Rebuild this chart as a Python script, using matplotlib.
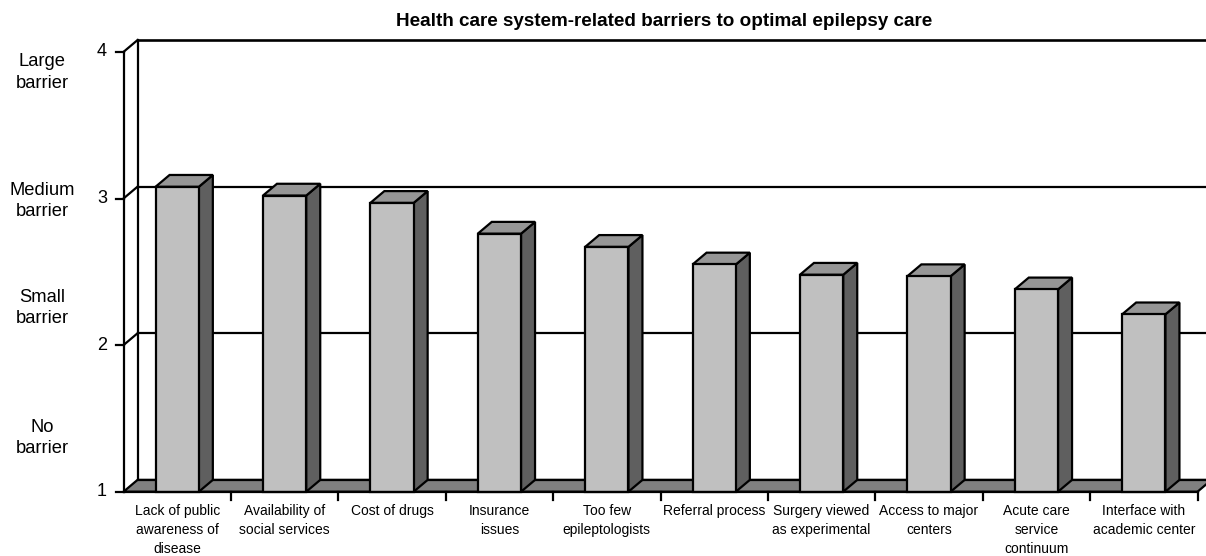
import matplotlib
matplotlib.use("Agg")
import matplotlib.pyplot as plt
from matplotlib.patches import Polygon

plt.rcParams["font.family"] = ["Liberation Sans", "DejaVu Sans"]

# Mean rating per barrier (1 = no barrier ... 4 = large barrier)
categories = [
    "Lack of public\nawareness of\ndisease",
    "Availability of\nsocial services",
    "Cost of drugs",
    "Insurance\nissues",
    "Too few\nepileptologists",
    "Referral process",
    "Surgery viewed\nas experimental",
    "Access to major\ncenters",
    "Acute care\nservice\ncontinuum",
    "Interface with\nacademic center",
]
values = [3.08, 3.02, 2.97, 2.76, 2.67, 2.55, 2.48, 2.47, 2.38, 2.21]
y_ticks = [1, 2, 3, 4]
level_labels = ["No\nbarrier", "Small\nbarrier", "Medium\nbarrier", "Large\nbarrier"]
title = "Health care system-related barriers to optimal epilepsy care"

W, H, DPI = 1206, 556, 100
fig = plt.figure(figsize=(W / DPI, H / DPI), dpi=DPI)
ax = fig.add_axes([0, 0, 1, 1])
ax.set_axis_off()

# pixel geometry of the front plane
px_left, px_cat = 123.5, 107.4          # x: left edge, pixels per category
py_base, px_val = 491.7, 146.6          # y: pixel row of value 1, pixels per unit
n = len(categories)
ax.set_xlim(-px_left / px_cat, (W - px_left) / px_cat)
ax.set_ylim(1 - (H - py_base) / px_val, 1 + py_base / px_val)

dx = 14 / px_cat      # depth offset (x)
dy = 11.8 / px_val    # depth offset (y)
xmax = ax.get_xlim()[1]
lw = 1.6

c_front, c_side, c_top, c_floor = "#c0c0c0", "#5f5f5f", "#969696", "#808080"

# back wall: left edge and horizontal gridlines
ax.plot([dx, dx], [1 + dy, 4 + dy], color="black", lw=lw, zorder=1)
for v in y_ticks[1:]:
    ax.plot([dx, xmax], [v + dy, v + dy], color="black",
            lw=1.9 if v == 4 else lw, zorder=1, clip_on=False)
    ax.plot([0, dx], [v, v + dy], color="black", lw=lw, zorder=1)

# floor
floor = Polygon([(0, 1), (n, 1), (n + dx, 1 + dy), (dx, 1 + dy)],
                closed=True, facecolor=c_floor, edgecolor="black", lw=lw,
                zorder=2, clip_on=False)
ax.add_patch(floor)
ax.plot([dx, xmax], [1 + dy, 1 + dy], color="black", lw=lw, zorder=2)

# 3-D columns
bw = 0.403
for i, v in enumerate(values):
    xl = i + 0.5 - bw / 2
    xr = xl + bw
    front = Polygon([(xl, 1), (xr, 1), (xr, v), (xl, v)], closed=True,
                    facecolor=c_front, edgecolor="black", lw=lw, zorder=4,
                    joinstyle="miter")
    side = Polygon([(xr, 1), (xr + dx, 1 + dy), (xr + dx, v + dy), (xr, v)],
                   closed=True, facecolor=c_side, edgecolor="black", lw=lw,
                   zorder=3, joinstyle="miter")
    top = Polygon([(xl, v), (xr, v), (xr + dx, v + dy), (xl + dx, v + dy)],
                  closed=True, facecolor=c_top, edgecolor="black", lw=lw,
                  zorder=3, joinstyle="miter")
    for p in (side, top, front):
        ax.add_patch(p)

# front value axis
ax.plot([0, 0], [1, 4], color="black", lw=lw, zorder=5)
ax.plot([0, n], [1, 1], color="black", lw=lw, zorder=5)
tick_len_x = 8 / px_cat
tick_len_y = 8 / px_val
for v in y_ticks:
    ax.plot([-tick_len_x, 0], [v, v], color="black", lw=lw, zorder=5)
    ax.text(-16.5 / px_cat, v, str(v), ha="right", va="center",
            fontsize=13, zorder=6)
for k in range(1, n + 1):
    ax.plot([k, k], [1, 1 - tick_len_y], color="black", lw=lw, zorder=5,
            clip_on=False)

# category labels
for i, lab in enumerate(categories):
    ax.text(i + 0.5, 1 - 12.5 / px_val, lab, ha="center", va="top",
            fontsize=10, linespacing=1.45)

# level descriptions on the left
level_y_px = [438, 308, 201, 72.5]
for lab, py in zip(level_labels, level_y_px):
    ax.text(42, H - py, lab, ha="center", va="center", fontsize=13.2,
            linespacing=1.32, transform=None)

ax.text(664, H - 22, title, ha="center", va="center", fontsize=13.6,
        fontweight="bold", transform=None)

fig.savefig("out.png", dpi=DPI)
